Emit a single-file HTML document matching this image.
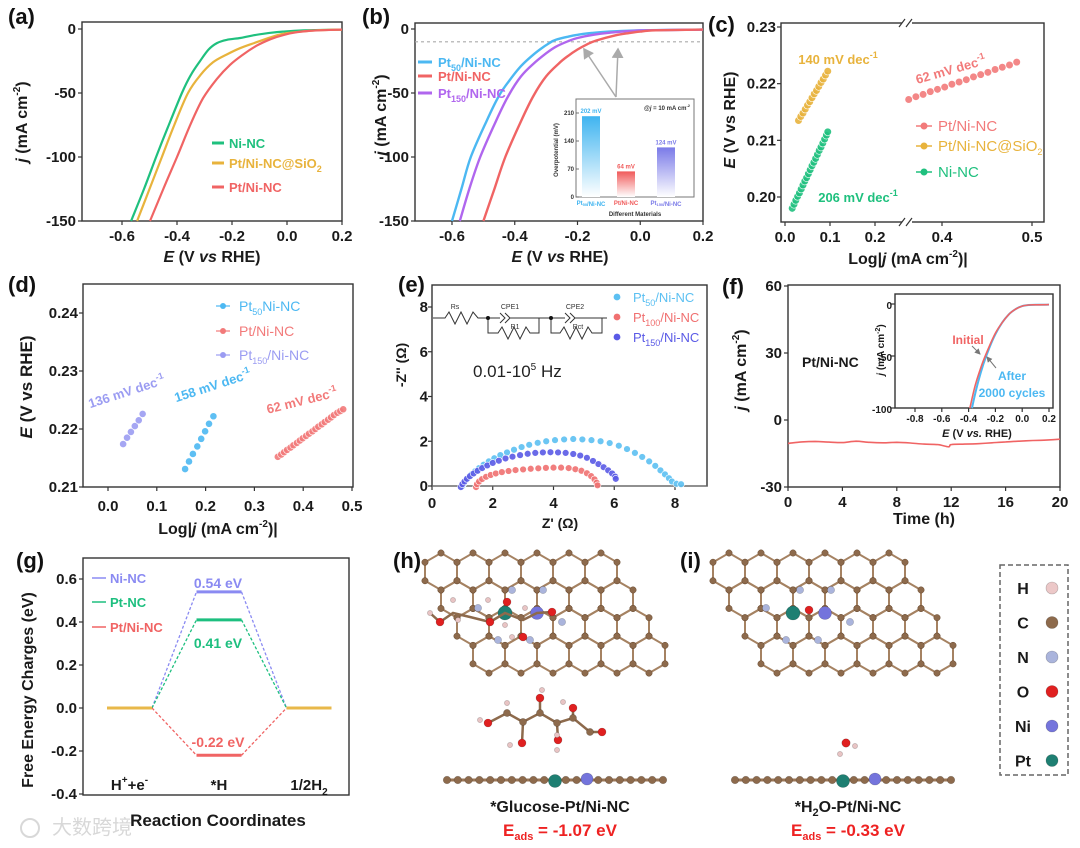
<!DOCTYPE html>
<html><head><meta charset="utf-8"><title>Pt/Ni-NC HER figure</title>
<style>
html,body{margin:0;padding:0;background:#fff;}
svg{display:block;font-family:"Liberation Sans","Noto Sans CJK SC",sans-serif;}
</style></head>
<body>
<svg id="fig" width="1080" height="848" viewBox="0 0 1080 848" xmlns="http://www.w3.org/2000/svg">
<defs>
<linearGradient id="gBlue" x1="0" y1="0" x2="0" y2="1"><stop offset="0" stop-color="#3fb4f0"/><stop offset="1" stop-color="#ffffff"/></linearGradient>
<linearGradient id="gRed" x1="0" y1="0" x2="0" y2="1"><stop offset="0" stop-color="#f05a5a"/><stop offset="1" stop-color="#ffffff"/></linearGradient>
<linearGradient id="gPur" x1="0" y1="0" x2="0" y2="1"><stop offset="0" stop-color="#7a7ae8"/><stop offset="1" stop-color="#ffffff"/></linearGradient>
<marker id="arr" markerWidth="8" markerHeight="8" refX="6" refY="4" orient="auto"><path d="M0,0 L7,4 L0,8 Z" fill="#aaa"/></marker>
<marker id="arr2" markerWidth="6" markerHeight="6" refX="5" refY="3" orient="auto"><path d="M0,0 L6,3 L0,6 Z" fill="#777"/></marker>
</defs>
<rect x="0" y="0" width="1080" height="848" fill="#fff"/>
</svg>
<script>
// ---------- data ----------
// (a)
const aNiE = [-0.567,-0.52,-0.476,-0.43,-0.382,-0.35,-0.316,-0.285,-0.255,-0.22,-0.17,-0.124,-0.06,-0.015,0.06,0.2];
const aNiJ = [-150,-125,-100,-75,-50,-36,-25,-16,-11,-8.5,-7,-5,-3,-2,-1,-0.5];
const aSiE = [-0.545,-0.5,-0.455,-0.41,-0.36,-0.315,-0.269,-0.22,-0.171,-0.12,-0.073,-0.03,0.01,0.06,0.109,0.2];
const aSiJ = [-150,-125,-100,-75,-50,-36,-26,-20,-15,-11,-7.5,-4.5,-3,-1.8,-1,-0.5];
const aPtE = [-0.498,-0.45,-0.4,-0.35,-0.305,-0.255,-0.207,-0.16,-0.11,-0.06,-0.01,0.036,0.08,0.12,0.2];
const aPtJ = [-150,-125,-100,-74,-54,-39,-28,-20,-13,-8,-4.5,-2.5,-1.5,-1,-0.5];
// (b)
const bP50E = [-0.6,-0.57,-0.54,-0.49,-0.45,-0.41,-0.38,-0.35,-0.32,-0.29,-0.27,-0.23,-0.2,-0.15,-0.1,0,0.2];
const bP50J = [-150,-125,-100,-72,-52,-38,-29,-22,-16,-11,-8.5,-6,-4.5,-3,-2,-1,-0.5];
const bP150E = [-0.575,-0.545,-0.51,-0.46,-0.42,-0.38,-0.34,-0.3,-0.27,-0.23,-0.2,-0.15,-0.1,0,0.2];
const bP150J = [-150,-125,-100,-72,-52,-37,-27,-19,-14,-9.5,-7,-4.5,-3,-1.2,-0.5];
const bPtE = [-0.5,-0.465,-0.43,-0.38,-0.34,-0.3,-0.26,-0.23,-0.2,-0.17,-0.14,-0.08,-0.03,0,0.05,0.2];
const bPtJ = [-150,-125,-100,-72,-52,-37,-27,-21,-16,-12,-9,-5,-3,-2,-1,-0.5];
const insetCats = ["Pt50/Ni-NC","Pt/Ni-NC","Pt150/Ni-NC"];
const insetVals = [202,64,124];
const insetLabels = ["202 mV","64 mV","124 mV"];
// (c)
const cPtX = [0.363,0.371,0.379,0.387,0.395,0.403,0.411,0.419,0.427,0.435,0.443,0.451,0.459,0.467,0.475,0.483];
const cPtY = [0.2172,0.2177,0.2181,0.2186,0.2190,0.2194,0.2199,0.2203,0.2207,0.2212,0.2216,0.2220,0.2225,0.2229,0.2233,0.2238];
const cSiX = [0.030,0.035,0.040,0.045,0.050,0.055,0.060,0.065,0.070,0.075,0.080,0.085,0.090,0.095];
const cSiY = [0.2135,0.2142,0.2148,0.2155,0.2162,0.2168,0.2175,0.2182,0.2188,0.2195,0.2202,0.2208,0.2215,0.2222];
const cNiX = [0.016,0.020,0.024,0.028,0.032,0.036,0.040,0.044,0.048,0.052,0.056,0.060,0.064,0.068,0.072,0.076,0.080,0.084,0.088,0.092,0.095];
const cNiY = [0.1980,0.1987,0.1994,0.2001,0.2007,0.2014,0.2021,0.2028,0.2034,0.2041,0.2048,0.2055,0.2061,0.2068,0.2075,0.2082,0.2088,0.2095,0.2102,0.2109,0.2115];
// (d)
const dP150X = [0.031,0.039,0.047,0.055,0.063,0.071];
const dP150Y = [0.2174,0.2185,0.2195,0.2205,0.2215,0.2226];
const dP50X = [0.158,0.166,0.174,0.183,0.191,0.199,0.207,0.216];
const dP50Y = [0.2131,0.2144,0.2157,0.2170,0.2183,0.2196,0.2209,0.2222];
const dPtX = [0.348,0.355,0.361,0.367,0.374,0.380,0.387,0.393,0.399,0.406,0.412,0.419,0.425,0.431,0.438,0.444,0.451,0.457,0.463,0.470,0.476,0.482];
const dPtY = [0.2152,0.2156,0.2160,0.2164,0.2168,0.2172,0.2176,0.2180,0.2184,0.2188,0.2192,0.2196,0.2200,0.2204,0.2208,0.2212,0.2216,0.2220,0.2224,0.2228,0.2231,0.2234];
// (e)
const eP50X = [1.0,1.05,1.12,1.2,1.3,1.42,1.55,1.7,1.87,2.05,2.25,2.47,2.7,2.95,3.2,3.48,3.76,4.05,4.35,4.65,4.95,5.25,5.55,5.85,6.15,6.42,6.68,6.92,7.15,7.35,7.52,7.67,7.8,7.9,8.05,8.2];
const eP50Y = [0.0,0.12,0.25,0.38,0.52,0.66,0.8,0.95,1.1,1.24,1.38,1.5,1.62,1.74,1.84,1.93,2.0,2.05,2.08,2.1,2.08,2.05,2.0,1.92,1.8,1.65,1.48,1.3,1.1,0.9,0.7,0.52,0.35,0.2,0.1,0.08];
const eP150X = [0.95,1.0,1.07,1.15,1.25,1.37,1.5,1.65,1.82,2.0,2.2,2.42,2.65,2.9,3.15,3.4,3.65,3.9,4.15,4.4,4.65,4.88,5.1,5.3,5.48,5.65,5.8,5.93,6.03,6.05];
const eP150Y = [-0.05,0.08,0.2,0.32,0.44,0.56,0.68,0.8,0.92,1.03,1.13,1.23,1.31,1.38,1.44,1.48,1.5,1.51,1.5,1.48,1.43,1.36,1.26,1.12,0.98,0.84,0.7,0.56,0.42,0.32];
const eP100X = [1.45,1.48,1.55,1.65,1.78,1.93,2.1,2.3,2.52,2.75,3.0,3.25,3.5,3.75,4.0,4.25,4.5,4.72,4.92,5.1,5.24,5.35,5.42,5.45];
const eP100Y = [-0.05,0.08,0.2,0.31,0.41,0.49,0.56,0.62,0.67,0.71,0.74,0.77,0.79,0.81,0.82,0.82,0.8,0.75,0.68,0.57,0.44,0.3,0.15,0.03];
// (f)
const fT = [0,1,2,3,4,5,6,7,8,9,10,11,11.8,12,13,14,15,16,17,18,19,20];
const fJ = [-10.5,-9.8,-9.6,-9.9,-10.1,-9.5,-10,-10.2,-10,-10.3,-10.8,-11,-12,-11,-10.8,-10.6,-10.2,-9.8,-9.5,-9.2,-9,-8.6];
const fInE = [-0.39,-0.35,-0.3,-0.25,-0.2,-0.15,-0.1,-0.05,0,0.05,0.1,0.2];
const fInJ = [-100,-78,-58,-42,-28,-18,-10,-5,-2,-1,-0.8,-0.6];
const fAfE = [-0.375,-0.335,-0.29,-0.245,-0.2,-0.15,-0.1,-0.05,0,0.05,0.1,0.2];
const fAfJ = [-100,-78,-58,-42,-29,-18,-10,-5,-2,-1,-0.8,-0.6];
// (g)
const gCats = ["H<tspan font-size='10' dy='-7'>+</tspan><tspan dy='7'>+e</tspan><tspan font-size='10' dy='-7'>-</tspan>","*H","1/2H<tspan font-size='10' dy='5'>2</tspan>"];
const gNi = [0,0.54,0];
const gPt = [0,0.41,0];
const gPtNi = [0,-0.22,0];

// ---------- helpers ----------
const NS='http://www.w3.org/2000/svg';
const svg=document.getElementById('fig');
function add(tag, attrs, name, parent){
  const e=document.createElementNS(NS,tag);
  for(const k in attrs) e.setAttribute(k, attrs[k]);
  
  
  (parent||svg).appendChild(e);
  return e;
}
function T(x,y,s,size,color,name,anchor,extra){
  const at={x:x,y:y,'font-size':size,fill:color||'#1a1a1a','text-anchor':anchor||'middle','font-weight':'bold'};
  if(extra) for(const k in extra) at[k]=extra[k];
  const e=add('text',at,name);
  e.innerHTML=s;
  return e;
}
function lin(d0,d1,r0,r1){return v=>r0+(v-d0)*(r1-r0)/(d1-d0);}
function frame(x0,y0,x1,y1,name){add('rect',{x:x0,y:y0,width:x1-x0,height:y1-y0,fill:'none',stroke:'#333','stroke-width':1.4},name);}
function xticks(vals,labs,sx,yb,ly,size,name){
  vals.forEach((v,i)=>{
    add('line',{x1:sx(v),x2:sx(v),y1:yb,y2:yb+4,stroke:'#333','stroke-width':1.2},name+'-tick');
    T(sx(v),ly,labs[i],size||15,'#1a1a1a',name+'-label');
  });
}
function yticks(vals,labs,sy,xl,lx,size,name){
  vals.forEach((v,i)=>{
    add('line',{x1:xl-4,x2:xl,y1:sy(v),y2:sy(v),stroke:'#333','stroke-width':1.2},name+'-tick');
    T(lx,sy(v)+5,labs[i],size||15,'#1a1a1a',name+'-label','end');
  });
}
// smooth curve (Catmull-Rom) through data points
function poly(xs,ys,sx,sy,color,w,name){
  const P=xs.map((x,i)=>[sx(x),sy(ys[i])]);
  let d='M'+P[0][0].toFixed(1)+','+P[0][1].toFixed(1);
  for(let i=0;i<P.length-1;i++){
    const p0=P[Math.max(0,i-1)],p1=P[i],p2=P[i+1],p3=P[Math.min(P.length-1,i+2)];
    const c1=[p1[0]+(p2[0]-p0[0])/6,p1[1]+(p2[1]-p0[1])/6];
    const c2=[p2[0]-(p3[0]-p1[0])/6,p2[1]-(p3[1]-p1[1])/6];
    d+=' C'+c1[0].toFixed(1)+','+c1[1].toFixed(1)+' '+c2[0].toFixed(1)+','+c2[1].toFixed(1)+' '+p2[0].toFixed(1)+','+p2[1].toFixed(1);
  }
  add('path',{d:d,fill:'none',stroke:color,'stroke-width':w||2,'stroke-linejoin':'round'},name);
}
function dots(xs,ys,sx,sy,color,r,name){
  xs.forEach((x,i)=>{
    add('circle',{cx:sx(x),cy:sy(ys[i]),r:r||3.6,fill:color,stroke:'#fff','stroke-width':0.6,'fill-opacity':0.9},name);
  });
}
function rotT(x,y,s,size,name){
  T(x,y,s,size,'#1a1a1a',name,'middle',{transform:'rotate(-90 '+x+' '+y+')'});
}
const jLab="<tspan font-style='italic'>j</tspan> (mA cm<tspan font-size='10' dy='-7'>-2</tspan><tspan dy='7'>)</tspan>";
const eLab="<tspan font-style='italic'>E</tspan> (V <tspan font-style='italic'>vs</tspan> RHE)";
const EvsLab="<tspan font-style='italic'>E</tspan> (V vs RHE)";
const logLab="Log|<tspan font-style='italic'>j</tspan> (mA cm<tspan font-size='10' dy='-7'>-2</tspan><tspan dy='7'>)|</tspan>";
function sub(a,b,c){return a+"<tspan font-size='9' dy='4'>"+b+"</tspan><tspan dy='-4'>"+c+"</tspan>";}

// ---------- panel (a) ----------
(function(){
  const sx=lin(-0.6,0.2,122,342), sy=lin(0,-150,29,221);
  frame(82,22,342,221,'panel-a-frame');
  T(8,24,'(a)',22,'#111','panel-a-label','start');
  xticks([-0.6,-0.4,-0.2,0,0.2],['-0.6','-0.4','-0.2','0.0','0.2'],sx,221,241,15,'panel-a-x');
  yticks([0,-50,-100,-150],['0','-50','-100','-150'],sy,82,76,15,'panel-a-y');
  T(212,262,eLab,16,'#1a1a1a','panel-a-x-title');
  rotT(27,122,jLab,16,'panel-a-y-title');
  poly(aNiE,aNiJ,sx,sy,'#1fc07e',2.2,'panel-a-ni-nc-curve');
  poly(aSiE,aSiJ,sx,sy,'#e8b33c',2.2,'panel-a-sio2-curve');
  poly(aPtE,aPtJ,sx,sy,'#f06464',2.2,'panel-a-pt-ni-nc-curve');
  const lg=[['Ni-NC','#1fc07e',143],["Pt/Ni-NC@SiO<tspan font-size='9' dy='4'>2</tspan>",'#e8b33c',163],['Pt/Ni-NC','#f06464',187]];
  lg.forEach(l=>{add('line',{x1:212,x2:224,y1:l[2],y2:l[2],stroke:l[1],'stroke-width':3},'panel-a-legend-line');T(229,l[2]+5,l[0],13,l[1],'panel-a-legend-label','start');});
})();

// ---------- panel (b) ----------
(function(){
  const sx=lin(-0.6,0.2,452,703), sy=lin(0,-150,29,221);
  frame(415,23,703,221,'panel-b-frame');
  T(362,24,'(b)',22,'#111','panel-b-label','start');
  add('line',{x1:415,x2:703,y1:sy(-10),y2:sy(-10),stroke:'#aaa','stroke-width':1.2,'stroke-dasharray':'3,3'},'panel-b-10ma-reference-line');
  xticks([-0.6,-0.4,-0.2,0,0.2],['-0.6','-0.4','-0.2','0.0','0.2'],sx,221,241,15,'panel-b-x');
  yticks([0,-50,-100,-150],['0','-50','-100','-150'],sy,415,409,15,'panel-b-y');
  T(560,262,eLab,16,'#1a1a1a','panel-b-x-title');
  rotT(386,115,jLab,16,'panel-b-y-title');
  poly(bP50E,bP50J,sx,sy,'#4cb8f2',2.4,'panel-b-pt50-curve');
  poly(bP150E,bP150J,sx,sy,'#b066ee',2.4,'panel-b-pt150-curve');
  poly(bPtE,bPtJ,sx,sy,'#f06464',2.4,'panel-b-pt-ni-nc-curve');
  const lg=[[sub('Pt','50','/Ni-NC'),'#4cb8f2',66],['Pt/Ni-NC','#f06464',80],[sub('Pt','150','/Ni-NC'),'#b066ee',97]];
  lg.forEach(l=>{add('line',{x1:418,x2:432,y1:l[2]-4,y2:l[2]-4,stroke:l[1],'stroke-width':3},'panel-b-legend-line');T(438,l[2]+1,l[0],13,l[1],'panel-b-legend-label','start');});
  // inset bar chart
  add('rect',{x:576,y:99,width:118,height:98,fill:'#fff',stroke:'#777','stroke-width':1},'panel-b-inset-frame');
  const isy=lin(0,210,197,113);
  const bx=[591,626,666];
  const grads=['url(#gBlue)','url(#gRed)','url(#gPur)'];
  const cols=['#3fb4f0','#f05a5a','#7a7ae8'];
  insetVals.forEach((v,i)=>{
    add('rect',{x:bx[i]-9,y:isy(v),width:18,height:197-isy(v),fill:grads[i]},'panel-b-inset-bar');
    T(bx[i],isy(v)-3,insetLabels[i],6,cols[i],'panel-b-inset-bar-value');
    const c=insetCats[i].replace(/Pt(\d+)/,"Pt<tspan font-size='4' dy='1'>$1</tspan><tspan dy='-1'></tspan>");
    T(bx[i],205,c,6,cols[i],'panel-b-inset-category');
  });
  [0,70,140,210].forEach(v=>{T(574,isy(v)+2,String(v),6,'#333','panel-b-inset-y-label','end');add('line',{x1:576,x2:579,y1:isy(v),y2:isy(v),stroke:'#555','stroke-width':0.8},'panel-b-inset-y-tick');});
  T(635,216,'Different Materials',6,'#333','panel-b-inset-x-title');
  T(558,150,'Overpotential (mV)',6,'#333','panel-b-inset-y-title','middle',{transform:'rotate(-90 558 150)'});
  T(667,110,"@<tspan font-style='italic'>j</tspan> = 10 mA cm<tspan font-size='4' dy='-3'>-2</tspan>",6,'#333','panel-b-inset-condition');
  add('line',{x1:616,y1:97,x2:584,y2:49,stroke:'#aaa','stroke-width':1.5,'marker-end':'url(#arr)'},'panel-b-arrow-pt50');
  add('line',{x1:616,y1:97,x2:618,y2:49,stroke:'#aaa','stroke-width':1.5,'marker-end':'url(#arr)'},'panel-b-arrow-pt');
})();

// ---------- panel (c) ----------
(function(){
  const sxL=lin(0,0.2,785,875), sxR=lin(0.4,0.5,942,1032);
  const sx=v=>v<0.3?sxL(v):sxR(v);
  const sy=lin(0.20,0.23,197,27);
  frame(781,23,1044,222,'panel-c-frame');
  add('rect',{x:902,y:18,width:10,height:10,fill:'#fff'},'panel-c-axis-break-top');
  add('rect',{x:902,y:217,width:10,height:10,fill:'#fff'},'panel-c-axis-break-bottom');
  ['M899,27 L905,19','M906,27 L912,19','M899,226 L905,218','M906,226 L912,218'].forEach(d=>add('path',{d:d,stroke:'#333','stroke-width':1.2,fill:'none'},'panel-c-break-mark'));
  T(708,32,'(c)',22,'#111','panel-c-label','start');
  xticks([0,0.1,0.2,0.4,0.5],['0.0','0.1','0.2','0.4','0.5'],sx,222,242,15,'panel-c-x');
  yticks([0.20,0.21,0.22,0.23],['0.20','0.21','0.22','0.23'],sy,781,776,15,'panel-c-y');
  T(908,264,logLab,16,'#1a1a1a','panel-c-x-title');
  rotT(735,120,EvsLab,16,'panel-c-y-title');
  dots(cPtX,cPtY,sx,sy,'#f27a7a',3.8,'panel-c-pt-ni-nc-point');
  dots(cSiX,cSiY,sx,sy,'#e8b33c',3.8,'panel-c-sio2-point');
  dots(cNiX,cNiY,sx,sy,'#1fc07e',3.8,'panel-c-ni-nc-point');
  T(838,64,"140 mV dec<tspan font-size='9' dy='-6'>-1</tspan>",13,'#e8b33c','panel-c-sio2-slope');
  T(858,202,"206 mV dec<tspan font-size='9' dy='-6'>-1</tspan>",13,'#1fc07e','panel-c-ni-slope');
  T(952,74,"62 mV dec<tspan font-size='9' dy='-6'>-1</tspan>",13,'#f27a7a','panel-c-pt-slope','middle',{transform:'rotate(-16 952 74)'});
  const lg=[['Pt/Ni-NC','#f27a7a',126],["Pt/Ni-NC@SiO<tspan font-size='9' dy='4'>2</tspan>",'#e8b33c',146],['Ni-NC','#1fc07e',172]];
  lg.forEach(l=>{add('line',{x1:916,x2:932,y1:l[2],y2:l[2],stroke:l[1],'stroke-width':1.5},'panel-c-legend-line');add('circle',{cx:924,cy:l[2],r:3.5,fill:l[1]},'panel-c-legend-marker');T(938,l[2]+5,l[0],15,l[1],'panel-c-legend-label','start',{'font-weight':'normal'});});
})();

// ---------- panel (d) ----------
(function(){
  const sx=lin(0,0.5,108,352), sy=lin(0.21,0.24,487,313);
  frame(83,284,353,487,'panel-d-frame');
  T(8,292,'(d)',22,'#111','panel-d-label','start');
  xticks([0,0.1,0.2,0.3,0.4,0.5],['0.0','0.1','0.2','0.3','0.4','0.5'],sx,487,511,15,'panel-d-x');
  yticks([0.21,0.22,0.23,0.24],['0.21','0.22','0.23','0.24'],sy,83,78,15,'panel-d-y');
  T(218,534,logLab,16,'#1a1a1a','panel-d-x-title');
  rotT(32,387,EvsLab,17,'panel-d-y-title');
  dots(dP150X,dP150Y,sx,sy,'#9b9cf2',3.6,'panel-d-pt150-point');
  dots(dP50X,dP50Y,sx,sy,'#4cb8f2',3.6,'panel-d-pt50-point');
  dots(dPtX,dPtY,sx,sy,'#f27a7a',3.6,'panel-d-pt-ni-nc-point');
  T(128,396,"136 mV dec<tspan font-size='9' dy='-6'>-1</tspan>",13,'#9b9cf2','panel-d-pt150-slope','middle',{transform:'rotate(-18 128 396)'});
  T(214,390,"158 mV dec<tspan font-size='9' dy='-6'>-1</tspan>",13,'#4cb8f2','panel-d-pt50-slope','middle',{transform:'rotate(-18 214 390)'});
  T(303,405,"62 mV dec<tspan font-size='9' dy='-6'>-1</tspan>",13,'#f27a7a','panel-d-pt-slope','middle',{transform:'rotate(-14 303 405)'});
  const lg=[[sub('Pt','50','Ni-NC'),'#4cb8f2',306],['Pt/Ni-NC','#f27a7a',331],[sub('Pt','150','/Ni-NC'),'#9b9cf2',355]];
  lg.forEach(l=>{add('line',{x1:216,x2:230,y1:l[2],y2:l[2],stroke:l[1],'stroke-width':1.2},'panel-d-legend-line');add('circle',{cx:223,cy:l[2],r:3,fill:l[1]},'panel-d-legend-marker');T(239,l[2]+5,l[0],14,l[1],'panel-d-legend-label','start',{'font-weight':'normal'});});
})();

// ---------- panel (e) ----------
(function(){
  const sx=lin(0,8,432,675), sy=lin(0,8,486,307);
  frame(432,285,707,486,'panel-e-frame');
  T(398,292,'(e)',22,'#111','panel-e-label','start');
  xticks([0,2,4,6,8],['0','2','4','6','8'],sx,486,508,15,'panel-e-x');
  yticks([0,2,4,6,8],['0','2','4','6','8'],sy,432,428,15,'panel-e-y');
  T(560,528,"Z' (Ω)",14,'#1a1a1a','panel-e-x-title');
  rotT(406,365,"-Z'' (Ω)",14,'panel-e-y-title');
  add('line',{x1:432,x2:707,y1:sy(0),y2:sy(0),stroke:'#888','stroke-width':0.8},'panel-e-zero-line');
  dots(eP50X,eP50Y,sx,sy,'#5cc0f2',3.4,'panel-e-pt50-point');
  dots(eP150X,eP150Y,sx,sy,'#5a5ae6',3.4,'panel-e-pt150-point');
  dots(eP100X,eP100Y,sx,sy,'#f07070',3.4,'panel-e-pt100-point');
  add('path',{d:'M433,318 L445,318 L449,312 L455,324 L461,312 L467,324 L473,312 L478,318 L488,318 L500,318 M517,318 L551,318 L565,318 M582,318 L607,318',fill:'none',stroke:'#333','stroke-width':1},'panel-e-circuit-main-line');
  add('path',{d:'M500,313 L505,318 L500,323 M505,313 L510,318 L505,323 M510,318 L517,318 M565,313 L570,318 L565,323 M570,313 L575,318 L570,323 M575,318 L582,318',fill:'none',stroke:'#333','stroke-width':1},'panel-e-circuit-cpe');
  add('path',{d:'M488,318 L488,333 L498,333 L502,327 L508,339 L514,327 L520,339 L526,327 L530,333 L539,333 L539,318',fill:'none',stroke:'#333','stroke-width':1},'panel-e-circuit-r1');
  add('path',{d:'M551,318 L551,333 L560,333 L564,327 L570,339 L576,327 L582,339 L588,327 L592,333 L602,333 L602,318',fill:'none',stroke:'#333','stroke-width':1},'panel-e-circuit-rct');
  add('circle',{cx:488,cy:318,r:2,fill:'#111'},'panel-e-circuit-node');
  add('circle',{cx:551,cy:318,r:2,fill:'#111'},'panel-e-circuit-node');
  T(455,309,'Rs',7,'#333','panel-e-circuit-label','middle',{'font-weight':'normal'});
  T(510,309,'CPE1',7,'#333','panel-e-circuit-label','middle',{'font-weight':'normal'});
  T(515,329,'R1',7,'#333','panel-e-circuit-label','middle',{'font-weight':'normal'});
  T(575,309,'CPE2',7,'#333','panel-e-circuit-label','middle',{'font-weight':'normal'});
  T(578,329,'Rct',7,'#333','panel-e-circuit-label','middle',{'font-weight':'normal'});
  T(473,377,"0.01-10<tspan font-size='10' dy='-7'>5</tspan><tspan dy='7'> Hz</tspan>",17,'#222','panel-e-frequency-range','start',{'font-weight':'normal'});
  const lg=[[sub('Pt','50','/Ni-NC'),'#5cc0f2',297],[sub('Pt','100','/Ni-NC'),'#f07070',317],[sub('Pt','150','/Ni-NC'),'#5a5ae6',337]];
  lg.forEach(l=>{add('circle',{cx:617,cy:l[2],r:3.4,fill:l[1]},'panel-e-legend-marker');T(633,l[2]+5,l[0],13,l[1],'panel-e-legend-label','start',{'font-weight':'normal'});});
})();

// ---------- panel (f) ----------
(function(){
  const sx=lin(0,20,788,1060), sy=lin(-30,60,487,286);
  frame(788,285,1060,487,'panel-f-frame');
  T(722,294,'(f)',22,'#111','panel-f-label','start');
  xticks([0,4,8,12,16,20],['0','4','8','12','16','20'],sx,487,507,15,'panel-f-x');
  yticks([-30,0,30,60],['-30','0','30','60'],sy,788,782,15,'panel-f-y');
  T(924,524,'Time (h)',16,'#1a1a1a','panel-f-x-title');
  rotT(746,370,jLab,16,'panel-f-y-title');
  poly(fT,fJ,sx,sy,'#f06464',1.6,'panel-f-stability-line');
  T(802,367,'Pt/Ni-NC',14,'#1a1a1a','panel-f-sample-label','start');
  const ix=lin(-0.8,0.2,915,1049), iy=lin(0,-100,304,408);
  frame(895,294,1053,408,'panel-f-inset-frame');
  xticks([-0.8,-0.6,-0.4,-0.2,0,0.2],['-0.8','-0.6','-0.4','-0.2','0.0','0.2'],ix,408,422,10,'panel-f-inset-x');
  yticks([0,-50,-100],['0','-50','-100'],iy,895,892,10,'panel-f-inset-y');
  T(977,437,"<tspan font-style='italic'>E</tspan> (V <tspan font-style='italic'>vs.</tspan> RHE)",11,'#1a1a1a','panel-f-inset-x-title');
  T(884,350,"<tspan font-style='italic'>j</tspan> (mA cm<tspan font-size='7' dy='-4'>-2</tspan><tspan dy='4'>)</tspan>",10,'#1a1a1a','panel-f-inset-y-title','middle',{transform:'rotate(-90 884 350)'});
  poly(fAfE,fAfJ,ix,iy,'#4cb8f2',2,'panel-f-inset-after-curve');
  poly(fInE,fInJ,ix,iy,'#f06464',1.6,'panel-f-inset-initial-curve');
  T(968,344,'Initial',12,'#f06464','panel-f-inset-initial-label');
  T(1012,380,'After',12,'#4cb8f2','panel-f-inset-after-label');
  T(1012,397,'2000 cycles',12,'#4cb8f2','panel-f-inset-after-label');
  add('line',{x1:972,y1:346,x2:980,y2:354,stroke:'#777','stroke-width':1,'marker-end':'url(#arr2)'},'panel-f-inset-arrow');
  add('line',{x1:996,y1:368,x2:987,y2:357,stroke:'#777','stroke-width':1,'marker-end':'url(#arr2)'},'panel-f-inset-arrow');
})();

// ---------- panel (g) ----------
(function(){
  const sy=lin(0,0.6,708,579);
  const cx=[129.5,219,309], hw=22.5;
  frame(83,558,349,795,'panel-g-frame');
  T(16,568,'(g)',22,'#111','panel-g-label','start');
  yticks([-0.4,-0.2,0,0.2,0.4,0.6],['-0.4','-0.2','0.0','0.2','0.4','0.6'],sy,83,77,15,'panel-g-y');
  T(218,826,'Reaction Coordinates',17,'#1a1a1a','panel-g-x-title');
  rotT(33,690,'Free Energy Charges (eV)',16,'panel-g-y-title');
  gCats.forEach((c,i)=>T(cx[i],790,c,15,'#1a1a1a','panel-g-category-label'));
  const series=[[gNi,'#8a8af2','ni-nc'],[gPt,'#1dbf7f','pt-nc'],[gPtNi,'#f06464','pt-ni-nc']];
  series.forEach(s=>{
    const v=s[0];
    for(let i=0;i<v.length-1;i++){
      add('line',{x1:cx[i]+hw,y1:sy(v[i]),x2:cx[i+1]-hw,y2:sy(v[i+1]),stroke:s[1],'stroke-width':1.3,'stroke-dasharray':'3,2'},'panel-g-'+s[2]+'-connector');
    }
    v.forEach((val,i)=>{
      const col=(i===1)?s[1]:'#e8b84a';
      add('line',{x1:cx[i]-hw,x2:cx[i]+hw,y1:sy(val),y2:sy(val),stroke:col,'stroke-width':3},'panel-g-'+s[2]+'-level');
    });
  });
  T(218,588,gNi[1].toFixed(2)+' eV',14,'#8a8af2','panel-g-ni-nc-value');
  T(218,648,gPt[1].toFixed(2)+' eV',14,'#1dbf7f','panel-g-pt-nc-value');
  T(218,747,gPtNi[1].toFixed(2)+' eV',14,'#f06464','panel-g-pt-ni-nc-value');
  const lg=[['Ni-NC','#8a8af2',578],['Pt-NC','#1dbf7f',602],['Pt/Ni-NC','#f06464',627]];
  lg.forEach(l=>{add('line',{x1:92,x2:106,y1:l[2],y2:l[2],stroke:l[1],'stroke-width':1.5},'panel-g-legend-line');T(110,l[2]+5,l[0],13,l[1],'panel-g-legend-label','start');});
  T(52,834,'大数跨境',20,'#d8d8d8','watermark','start',{'font-weight':'normal'});
  add('circle',{cx:30,cy:828,r:9,fill:'none',stroke:'#d8d8d8','stroke-width':2},'watermark-logo');
})();

// ---------- molecular structures (h), (i) ----------
function graphene(x0,y0,rows,cols,name){
  const a=18.5, w=32, rh=27.7;
  const g=add('g',{},name);
  const verts=[];
  for(let r=0;r<rows;r++){
    for(let c=0;c<cols;c++){
      const hx=x0+c*w+r*w/2, hy=y0+r*rh;
      const pts=[];
      for(let k=0;k<6;k++){const ang=Math.PI/180*(60*k-90);pts.push([hx+a*Math.cos(ang),hy+a*Math.sin(ang)]);}
      add('polygon',{points:pts.map(p=>p[0].toFixed(1)+','+p[1].toFixed(1)).join(' '),fill:'none',stroke:'#a58262','stroke-width':2},name+'-bond',g);
      pts.forEach(p=>verts.push(p));
    }
  }
  verts.forEach(p=>add('circle',{cx:p[0],cy:p[1],r:3.2,fill:'#8d6a4c',stroke:'#6a4c33','stroke-width':0.5},name+'-carbon-atom',g));
  return g;
}
function atom(x,y,r,col,name){add('circle',{cx:x,cy:y,r:r,fill:col,stroke:'rgba(0,0,0,0.25)','stroke-width':0.6},name);}
function side(x0,x1,y,pt,ni,name){
  add('line',{x1:x0,x2:x1,y1:y,y2:y,stroke:'#9b7656','stroke-width':3},name+'-bonds');
  for(let x=x0;x<=x1+0.1;x+=(x1-x0)/20) atom(x,y,3.8,'#8d6a4c',name+'-carbon-atom');
  atom(pt,y+1,6.5,'#1e7f72',name+'-pt-atom');
  atom(ni,y-1,6,'#7474dc',name+'-ni-atom');
}
(function(){
  T(393,568,'(h)',22,'#111','panel-h-label','start');
  graphene(441,571.5,4,6,'panel-h-graphene');
  [[478,608],[512,590],[543,590],[562,622],[498,640],[530,640]].forEach(p=>atom(p[0],p[1],3.6,'#aab4dc','panel-h-nitrogen-atom'));
  atom(505,613,7,'#1e7f72','panel-h-pt-atom');
  atom(537,613,6.5,'#7474dc','panel-h-ni-atom');
  add('path',{d:'M430,613 L440,622 L453,613 L470,617 L490,622 L505,613 L523,620 L537,613 L552,612',fill:'none',stroke:'#8d6a4c','stroke-width':2.5},'panel-h-adsorbed-glucose-bonds');
  [[440,622],[490,622],[507,602],[552,612],[523,637]].forEach(p=>atom(p[0],p[1],4,'#e02020','panel-h-oxygen-atom'));
  [[430,613],[458,620],[453,600],[488,600],[525,608],[512,637],[505,625]].forEach(p=>atom(p[0],p[1],2.6,'#e8c4c4','panel-h-hydrogen-atom'));
  add('path',{d:'M488,723 L507,713 L523,722 L540,713 L557,723 L573,718 L590,732 L602,732 M540,713 L540,698 M573,718 L573,708 M523,722 L522,743 M557,723 L558,740',fill:'none',stroke:'#8d6a4c','stroke-width':2.5},'panel-h-glucose-bonds');
  [[507,713],[523,722],[540,713],[557,723],[573,718],[590,732]].forEach(p=>atom(p[0],p[1],3.6,'#8d6a4c','panel-h-glucose-carbon'));
  [[488,723],[540,698],[573,708],[522,743],[558,740],[602,732]].forEach(p=>atom(p[0],p[1],4,'#e02020','panel-h-glucose-oxygen'));
  [[480,720],[507,703],[542,690],[563,702],[510,745],[557,750],[557,735]].forEach(p=>atom(p[0],p[1],2.6,'#e8c4c4','panel-h-glucose-hydrogen'));
  side(447,663,780,555,587,'panel-h-side-view');
  T(560,812,'*Glucose-Pt/Ni-NC',16,'#1a1a1a','panel-h-structure-name');
  T(560,836,"E<tspan font-size='11' dy='4'>ads</tspan><tspan dy='-4'> = -1.07 eV</tspan>",17,'#ee2222','panel-h-adsorption-energy');
})();
(function(){
  const dx=288;
  T(680,568,'(i)',22,'#111','panel-i-label','start');
  graphene(441+dx,571.5,4,6,'panel-i-graphene');
  [[478,608],[512,590],[543,590],[562,622],[498,640],[530,640]].forEach(p=>atom(p[0]+dx,p[1],3.6,'#aab4dc','panel-i-nitrogen-atom'));
  atom(505+dx,613,7,'#1e7f72','panel-i-pt-atom');
  atom(537+dx,613,6.5,'#7474dc','panel-i-ni-atom');
  atom(521+dx,610,4,'#e02020','panel-i-oxygen-atom');
  atom(846,743,4.2,'#e02020','panel-i-water-oxygen');
  atom(840,754,2.6,'#e8c4c4','panel-i-water-hydrogen');
  atom(855,746,2.6,'#e8c4c4','panel-i-water-hydrogen');
  side(447+dx,663+dx,780,555+dx,587+dx,'panel-i-side-view');
  T(560+dx,812,"*H<tspan font-size='11' dy='4'>2</tspan><tspan dy='-4'>O-Pt/Ni-NC</tspan>",16,'#1a1a1a','panel-i-structure-name');
  T(560+dx,836,"E<tspan font-size='11' dy='4'>ads</tspan><tspan dy='-4'> = -0.33 eV</tspan>",17,'#ee2222','panel-i-adsorption-energy');
})();
(function(){
  add('rect',{x:1000,y:565,width:68,height:210,fill:'none',stroke:'#666','stroke-width':1.5,'stroke-dasharray':'5,3'},'atom-legend-frame');
  const els=['H','C','N','O','Ni','Pt'];
  const cols=['#ecc8c8','#8d6a4c','#aab4dc','#e02020','#7474dc','#1e7f72'];
  els.forEach((e,i)=>{
    const y=588+i*34.5;
    T(1023,y+6,e,16,'#1a1a1a','atom-legend-label');
    atom(1052,y,6,cols[i],'atom-legend-marker');
  });
})();
</script>
</body></html>
